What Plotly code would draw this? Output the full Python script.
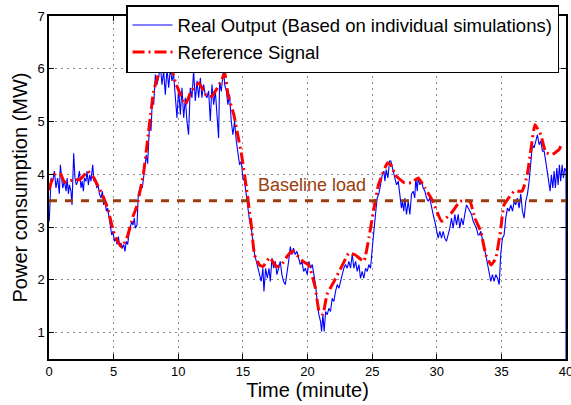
import plotly.graph_objects as go

# ---------------- data ----------------
ref_t = [0.0, 0.4, 0.9, 1.2, 2.0, 2.4, 3.0, 3.4, 3.8, 4.15, 4.55, 4.95, 5.3, 5.65, 6.1, 6.5, 6.8,
         7.3, 7.7, 8.1, 8.6, 9.5, 9.8, 10.55, 11.0, 11.6, 12.2, 12.6, 13.25, 13.6, 13.85, 14.3,
         14.6, 14.9, 15.27, 15.65, 15.9, 16.3, 16.55, 17.07, 17.6, 17.97, 18.5, 18.87, 19.64,
         20.1, 20.6, 20.9, 21.2, 21.5, 22.05, 22.7, 23.2, 23.7, 24.36, 24.75, 25.1, 25.5, 26.2,
         26.55, 26.76, 27.5, 28.05, 28.57, 29.1, 29.7, 30.37, 31.15, 31.8, 32.56, 32.95, 33.4,
         33.8, 34.2, 34.57, 34.96, 35.2, 36.0, 36.6, 37.0, 37.3, 37.6, 38.05, 38.44, 38.95,
         39.47, 39.7]
ref_v = [3.7, 4.0, 4.0, 3.85, 3.9, 3.9, 4.06, 3.96, 3.77, 3.6, 3.35, 2.95, 2.73, 2.62, 2.85, 3.2, 3.4,
         4.0, 4.8, 5.58, 5.96, 5.96, 5.73, 5.32, 5.58, 5.73, 5.48, 5.48, 5.73, 5.92, 5.51, 5.13,
         4.75, 4.37, 3.75, 3.04, 2.47, 2.28, 2.25, 2.42, 2.25, 2.28, 2.47, 2.54, 2.35,
         2.28, 1.85, 1.4, 1.35, 1.72, 1.97, 2.28, 2.51, 2.47, 2.35, 2.8, 3.3, 3.81, 4.22,
         4.15, 3.99, 3.84, 3.84, 3.93, 3.74, 3.49, 3.11, 3.27, 3.49, 3.49, 3.17, 2.92,
         2.47, 2.28, 2.41, 2.98, 3.42, 3.68, 3.68, 3.99, 4.5, 4.94, 4.75, 4.41, 4.38,
         4.47, 4.6]

real_t = [0.0, 0.03, 0.16, 0.29, 0.42, 0.54, 0.67, 0.80, 0.88, 0.98, 1.06, 1.19, 1.32, 1.40, 1.50,
          1.58, 1.70, 1.78, 1.91, 2.01, 2.12, 2.22, 2.35, 2.48, 2.56, 2.66, 2.74, 2.86, 2.94,
          3.05, 3.15, 3.25, 3.38, 3.48, 3.59, 3.69, 3.79, 3.90, 4.02, 4.13, 4.23, 4.33, 4.44,
          4.54, 4.64, 4.75, 4.85, 4.95, 5.06, 5.16, 5.26, 5.37, 5.47, 5.57, 5.67, 5.78, 5.88,
          5.98, 6.09, 6.19, 6.29, 6.40, 6.50, 6.60,
          6.68, 6.81, 6.91, 7.01, 7.12, 7.22, 7.32, 7.43, 7.53, 7.63, 7.71, 7.79, 7.89, 7.99,
          8.10, 8.23, 8.35, 8.48, 8.61, 8.74, 8.87, 9.00, 9.13, 9.26, 9.39, 9.51, 9.64, 9.77,
          9.90, 10.03, 10.16, 10.29, 10.42, 10.55, 10.67, 10.80, 10.93, 11.06, 11.19, 11.32,
          11.45, 11.58, 11.71, 11.83, 11.96, 12.09, 12.22, 12.35, 12.48, 12.61, 12.74, 12.87,
          12.99, 13.12,
          13.20, 13.33, 13.51, 13.59, 13.72, 13.84, 13.97, 14.10, 14.23, 14.36, 14.49, 14.62,
          14.75, 14.88, 15.00, 15.13, 15.26, 15.39, 15.52, 15.65, 15.78, 15.91, 16.04, 16.16,
          16.29, 16.42, 16.55, 16.63, 16.76, 16.89, 17.02, 17.12, 17.25, 17.38, 17.51, 17.63,
          17.76, 17.89, 18.02, 18.15, 18.28, 18.41, 18.54, 18.67, 18.79, 18.92, 19.05, 19.18,
          19.31, 19.44, 19.57, 19.70, 19.83,
          19.98, 20.11, 20.24, 20.37, 20.49, 20.62, 20.75, 20.88, 21.01, 21.09, 21.19, 21.29,
          21.40, 21.53, 21.65, 21.78, 21.91, 22.04, 22.17, 22.30, 22.43, 22.56, 22.69, 22.81,
          22.94, 23.07, 23.20, 23.33, 23.46, 23.59, 23.72, 23.85, 23.98, 24.10, 24.23, 24.36,
          24.49, 24.62, 24.75, 24.88, 25.01, 25.13, 25.26, 25.39, 25.52, 25.65, 25.78, 25.91,
          25.99, 26.09, 26.22, 26.35, 26.45,
          26.63, 26.76, 26.89, 27.02, 27.14, 27.27, 27.35, 27.45, 27.53, 27.66, 27.79, 27.92,
          28.05, 28.18, 28.30, 28.38, 28.49, 28.56, 28.69, 28.82, 28.95, 29.08, 29.21, 29.34,
          29.46, 29.59, 29.72, 29.85, 29.98, 30.11, 30.24, 30.37, 30.50, 30.62, 30.75, 30.88,
          31.01, 31.14, 31.27, 31.40, 31.53, 31.66, 31.78, 31.91, 32.04, 32.17, 32.30, 32.43,
          32.56, 32.69, 32.82, 32.95, 33.07, 33.20,
          33.28, 33.41, 33.54, 33.67, 33.79, 33.92, 34.05, 34.18, 34.31, 34.44, 34.57, 34.70,
          34.83, 34.95, 35.08, 35.21, 35.34, 35.47, 35.60, 35.73, 35.86, 35.99, 36.11, 36.24,
          36.37, 36.50, 36.63, 36.76, 36.89, 37.02, 37.15, 37.27, 37.40, 37.53, 37.66, 37.79,
          37.92, 38.05, 38.18, 38.31, 38.43, 38.56, 38.69, 38.77, 38.87, 38.98, 39.08, 39.18,
          39.29, 39.39, 39.49, 39.59, 39.70, 39.80, 39.90, 40.0, 40.0]
real_v = [3.10, 3.17, 3.93, 3.87, 4.06, 3.74, 3.93, 3.63, 4.18, 3.87, 3.74, 3.87, 3.68, 3.93, 3.63,
          3.80, 3.68, 3.42, 4.40, 3.93, 3.80, 3.87, 4.06, 3.74, 3.87, 3.68, 3.93, 3.87, 4.06,
          3.80, 3.99, 3.87, 4.18, 3.87, 3.93, 3.74, 3.80, 3.63, 3.55, 3.68, 3.42, 3.49, 3.30,
          3.36, 3.17, 3.04, 2.85, 2.92, 2.73, 2.79, 2.67, 2.82, 2.63, 2.70, 2.60, 2.67, 2.54,
          2.73, 2.67, 2.89, 2.98, 3.11, 3.04, 3.17,
          2.98, 3.04, 3.63, 3.74, 3.80, 3.74, 3.93, 4.12, 4.37, 4.20, 4.82, 5.01, 4.82, 5.39,
          5.32, 5.89, 5.70, 5.83, 6.08, 5.70, 5.96, 5.51, 6.02, 5.64, 6.02, 5.77, 5.89, 5.39,
          5.07, 5.64, 5.13, 5.64, 5.07, 5.45, 5.01, 4.75, 5.64, 5.45, 5.96, 5.39,
          5.77, 5.45, 5.83, 5.45, 5.70, 5.51, 5.45, 5.58, 5.01, 5.70, 5.32, 5.58,
          5.20, 4.69,
          5.75, 5.57, 6.03, 5.70, 5.58, 5.32, 5.51, 5.01, 4.75, 5.01, 4.63, 4.37,
          4.18, 4.25, 3.93, 3.87, 3.63, 3.30, 3.11, 2.98, 2.73, 2.48, 2.35, 2.22,
          2.10, 1.97, 2.22, 1.78, 2.22, 2.03, 2.22, 1.97, 2.41, 2.22, 2.35, 2.10,
          2.22, 2.35, 2.10, 1.97, 1.91, 2.10, 2.35, 2.63, 2.48, 2.60, 2.48, 2.54,
          2.41, 2.29, 2.35, 2.16, 2.22,
          2.10, 2.35, 2.22, 2.29, 2.10, 1.91, 1.59, 1.34, 1.21, 1.02, 1.34, 1.02,
          1.40, 1.34, 1.46, 1.40, 1.65, 1.59, 1.78, 1.91, 1.84, 1.97, 2.10, 2.22,
          2.29, 2.22, 2.35, 2.22, 2.48, 2.22, 2.35, 2.16, 2.29, 2.03, 2.16, 2.03,
          2.22, 2.16, 2.29, 2.22, 2.60, 2.98, 3.24, 3.55, 3.63, 3.80, 3.99, 4.06,
          3.87, 4.09, 3.93, 4.25, 4.25,
          4.06, 3.93, 3.80, 3.87, 3.63, 3.36, 3.49, 3.30, 3.55, 3.24, 3.49, 3.24,
          3.63, 3.68, 3.55, 3.93, 3.68, 3.93, 3.80, 3.87, 3.74, 3.68, 3.55, 3.49,
          3.55, 3.36, 3.24, 3.11, 2.92, 2.79, 2.92, 2.79, 2.92, 2.79, 2.73, 2.85,
          2.98, 3.17, 2.98, 3.24, 3.04, 3.24, 2.98, 3.17, 3.04, 3.24, 3.42, 3.36,
          3.30, 3.24, 3.11, 3.04, 2.98, 2.85,
          2.85, 2.92, 2.73, 2.60, 2.48, 2.29, 2.16, 1.97, 2.10, 1.97, 2.10, 2.03,
          1.91, 2.48, 2.79, 2.85, 3.17, 3.36, 3.30, 3.42, 3.30, 3.49, 3.42, 3.55,
          3.36, 3.63, 3.30, 3.17, 3.49, 3.63, 3.87, 4.25, 4.56, 4.50, 4.63, 4.75,
          4.56, 4.63, 4.44, 4.44, 4.25, 4.06, 3.87, 3.68, 3.99, 3.74, 4.06, 3.74,
          4.12, 3.80, 4.18, 3.87, 4.18, 3.93, 4.12, 4.05, 0.0]

baseline_t = [0, 40]
baseline_v = [3.5, 3.5]

x_ticks = [0, 5, 10, 15, 20, 25, 30, 35, 40]
y_ticks = [1, 2, 3, 4, 5, 6, 7]

FONT = "Liberation Sans, Arial, Helvetica, sans-serif"
BROWN = "#9A3D0E"

fig = go.Figure()
fig.add_trace(go.Scatter(x=real_t, y=real_v, mode="lines",
                         name="Real Output (Based on individual simulations)",
                         line=dict(color="#0000FF", width=1.1)))
fig.add_trace(go.Scatter(x=ref_t, y=ref_v, mode="lines", name="Reference Signal",
                         line=dict(color="#FF0000", width=3, dash="12px,4px,2px,4px",
                                   shape="spline", smoothing=0.35)))
fig.add_trace(go.Scatter(x=baseline_t, y=baseline_v, mode="lines", showlegend=False,
                         line=dict(color=BROWN, width=3, dash="8px,8px")))

fig.add_annotation(x=16.05, y=3.8, text="Baseline load", showarrow=False,
                   xanchor="left", yanchor="middle",
                   font=dict(family=FONT, size=18, color=BROWN))

axis_common = dict(showline=True, linecolor="black", linewidth=1.5, mirror="ticks",
                   ticks="inside", ticklen=5, tickcolor="black", tickwidth=1,
                   showgrid=True, gridcolor="#8c8c8c", gridwidth=1, griddash="2px,4px",
                   zeroline=False, automargin=False, ticklabeloverflow="allow",
                   tickfont=dict(family=FONT, size=13, color="black"))

fig.update_xaxes(range=[0, 40], tickvals=x_ticks,
                 title=dict(text="Time (minute)", font=dict(family=FONT, size=20, color="black"),
                            standoff=2),
                 **axis_common)
fig.update_yaxes(range=[0.5, 7], tickvals=y_ticks,
                 title=dict(text="Power consumption (MW)",
                            font=dict(family=FONT, size=20, color="black"), standoff=4),
                 **axis_common)

fig.update_layout(
    width=571, height=405,
    margin=dict(l=49, r=5, t=16, b=46, autoexpand=False),
    paper_bgcolor="white", plot_bgcolor="white",
    font=dict(family=FONT, color="black"),
    legend=dict(x=0.149, y=1.032, xanchor="left", yanchor="top",
                bgcolor="white", bordercolor="black", borderwidth=1.5,
                font=dict(family=FONT, size=18.5, color="black"),
                itemwidth=40, tracegroupgap=0),
    showlegend=True,
)

fig.write_html("out.html", config={"displayModeBar": False},
               post_script="document.body.style.margin='0';document.body.style.padding='0';")
